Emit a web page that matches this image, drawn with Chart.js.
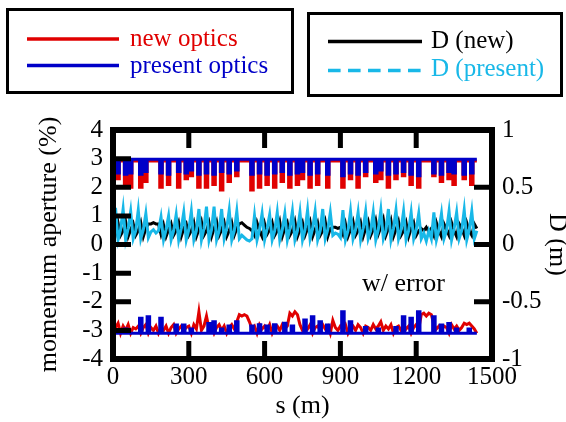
<!DOCTYPE html>
<html>
<head>
<meta charset="utf-8">
<script src="https://cdn.jsdelivr.net/npm/chart.js@4.4.1/dist/chart.umd.min.js"></script>
<style>
  body { margin: 0; background: #fff; }
  #wrap { position: relative; width: 566px; height: 422px; font-family: 'Liberation Serif', 'Times New Roman', serif; }
  #chart { position: absolute; left: 0; top: 0; }
  .box { position: absolute; border: 3px solid #000; box-sizing: border-box; }
  .txt { position: absolute; font-size: 25px; line-height: 25px; white-space: nowrap; }
  #keys { position: absolute; left: 0; top: 0; }
</style>
</head>
<body>
<div id="wrap">
  <canvas id="chart" width="566" height="422"></canvas>

  <div class="box" style="left:6px;top:8px;width:288px;height:86px;"></div>
  <div class="box" style="left:307px;top:12px;width:256px;height:85px;"></div>
  <svg id="keys" width="566" height="100">
    <line x1="27" y1="39" x2="119" y2="39" stroke="#e00000" stroke-width="3.5"/>
    <line x1="27" y1="65.5" x2="119" y2="65.5" stroke="#0000c8" stroke-width="3.5"/>
    <line x1="328" y1="41.5" x2="422" y2="41.5" stroke="#000" stroke-width="3.5"/>
    <line x1="328" y1="70.5" x2="422" y2="70.5" stroke="#18b8e8" stroke-width="3.5" stroke-dasharray="12.6 7.4"/>
  </svg>
  <div class="txt" style="left:130px;top:25px;color:#e00000;">new optics</div>
  <div class="txt" style="left:130px;top:52px;color:#0000c8;">present optics</div>
  <div class="txt" style="left:431px;top:27px;color:#000;">D (new)</div>
  <div class="txt" style="left:431px;top:55px;color:#18b8e8;">D (present)</div>
  <div class="txt" style="left:362px;top:270px;font-size:26px;line-height:26px;color:#000;">w/ error</div>
</div>

<script>
// position along the ring (m)
const s = [
  0, 10, 20, 30, 40, 50, 60, 70, 80, 90,
  100, 110, 120, 130, 140, 150, 160, 170, 180, 190,
  200, 210, 220, 230, 240, 250, 260, 270, 280, 290,
  300, 310, 320, 330, 340, 350, 360, 370, 380, 390,
  400, 410, 420, 430, 440, 450, 460, 470, 480, 490,
  500, 510, 520, 530, 540, 550, 560, 570, 580, 590,
  600, 610, 620, 630, 640, 650, 660, 670, 680, 690,
  700, 710, 720, 730, 740, 750, 760, 770, 780, 790,
  800, 810, 820, 830, 840, 850, 860, 870, 880, 890,
  900, 910, 920, 930, 940, 950, 960, 970, 980, 990,
  1000, 1010, 1020, 1030, 1040, 1050, 1060, 1070, 1080, 1090,
  1100, 1110, 1120, 1130, 1140, 1150, 1160, 1170, 1180, 1190,
  1200, 1210, 1220, 1230, 1240, 1250, 1260, 1270, 1280, 1290,
  1300, 1310, 1320, 1330, 1340, 1350, 1360, 1370, 1380, 1390,
  1400, 1410, 1420, 1430, 1440
];

// momentum aperture (%), new optics, positive side
const newTop = [
  2.92, 2.92, 2.3, 2.92, 2.92, 2.1, 2.92, 2.0, 2.92, 2.92,
  2.92, 2.0, 2.92, 2.2, 2.92, 2.92, 2.92, 2.92, 2.92, 2.0,
  2.92, 2.92, 2.1, 2.92, 2.92, 2.92, 2.0, 2.92, 2.92, 2.3,
  2.92, 2.4, 2.92, 2.92, 2.0, 2.92, 2.92, 2.0, 2.92, 2.92,
  2.1, 2.92, 2.92, 1.9, 2.92, 2.92, 2.2, 2.92, 2.92, 2.4,
  2.92, 2.92, 2.92, 2.92, 2.92, 1.9, 2.92, 2.92, 2.0, 2.92,
  2.92, 2.1, 2.92, 2.92, 2.0, 2.92, 2.92, 2.2, 2.92, 2.92,
  2.0, 2.92, 2.92, 2.1, 2.92, 2.3, 2.92, 2.92, 2.0, 2.92,
  2.92, 2.1, 2.92, 2.92, 2.92, 2.0, 2.92, 2.92, 2.92, 2.92,
  2.92, 2.0, 2.92, 2.92, 2.3, 2.92, 2.92, 2.0, 2.92, 2.92,
  2.4, 2.92, 2.92, 2.92, 2.2, 2.92, 2.3, 2.92, 2.92, 2.0,
  2.92, 2.92, 2.3, 2.92, 2.92, 2.4, 2.92, 2.92, 2.1, 2.92,
  2.92, 2.0, 2.92, 2.92, 2.92, 2.92, 2.92, 2.4, 2.92, 2.92,
  2.2, 2.92, 2.92, 2.3, 2.92, 2.1, 2.92, 2.92, 2.92, 2.3,
  2.92, 2.92, 2.1, 2.92, 2.92
];

// momentum aperture (%), present optics, positive side
const presentTop = [
  2.98, 2.98, 2.5, 2.98, 2.98, 2.45, 2.98, 2.5, 2.98, 2.98,
  2.98, 2.45, 2.98, 2.55, 2.98, 2.98, 2.98, 2.98, 2.98, 2.5,
  2.98, 2.98, 2.45, 2.98, 2.98, 2.98, 2.55, 2.98, 2.98, 2.5,
  2.98, 2.6, 2.98, 2.98, 2.45, 2.98, 2.98, 2.5, 2.98, 2.98,
  2.45, 2.98, 2.98, 2.55, 2.98, 2.98, 2.5, 2.98, 2.98, 2.6,
  2.98, 2.98, 2.98, 2.98, 2.98, 2.45, 2.98, 2.98, 2.5, 2.98,
  2.98, 2.45, 2.98, 2.98, 2.5, 2.98, 2.98, 2.55, 2.98, 2.98,
  2.45, 2.98, 2.98, 2.5, 2.98, 2.55, 2.98, 2.98, 2.45, 2.98,
  2.98, 2.5, 2.98, 2.98, 2.98, 2.45, 2.98, 2.98, 2.98, 2.98,
  2.98, 2.4, 2.98, 2.98, 2.5, 2.98, 2.98, 2.45, 2.98, 2.98,
  2.55, 2.98, 2.98, 2.98, 2.5, 2.98, 2.6, 2.98, 2.98, 2.45,
  2.98, 2.98, 2.5, 2.98, 2.98, 2.55, 2.98, 2.98, 2.45, 2.98,
  2.98, 2.4, 2.98, 2.98, 2.98, 2.98, 2.98, 2.5, 2.98, 2.98,
  2.45, 2.98, 2.98, 2.55, 2.98, 2.5, 2.98, 2.98, 2.98, 2.45,
  2.98, 2.98, 2.5, 2.98, 2.98
];

// momentum aperture (%), new optics, negative side
const newBot = [
  -3.18, -2.9, -2.75, -3.1, -2.85, -3.0, -2.8, -3.1, -2.9, -2.95,
  -2.85, -3.1, -2.9, -2.8, -3.1, -2.9, -3.0, -2.85, -3.1, -2.9,
  -3.0, -2.85, -3.1, -2.9, -2.8, -3.1, -2.95, -2.85, -3.0, -2.9,
  -2.85, -3.1, -2.8, -2.95, -2.35, -3.0, -2.85, -2.5, -2.95, -2.85,
  -3.1, -2.9, -2.8, -3.0, -2.85, -3.1, -2.9, -2.8, -2.95, -2.7,
  -2.45, -2.5, -2.45, -2.5, -2.7, -2.95, -2.85, -3.1, -2.8, -2.95,
  -2.85, -3.0, -2.8, -3.1, -2.9, -2.85, -3.0, -2.8, -2.95, -2.85,
  -2.4, -2.5, -2.35, -2.45, -2.8, -3.0, -2.85, -2.95, -2.8, -3.1,
  -2.9, -2.85, -3.0, -2.8, -2.95, -2.85, -3.1, -2.65, -2.9, -3.0,
  -2.85, -2.95, -2.8, -3.1, -2.9, -2.85, -3.0, -2.8, -2.9, -3.1,
  -2.85, -2.9, -3.0, -2.8, -2.95, -2.85, -2.7, -3.0, -2.85, -2.95,
  -2.8, -3.1, -2.9, -2.85, -3.0, -2.8, -2.95, -2.85, -3.1, -2.9,
  -2.8, -2.95, -2.45, -2.4, -2.5, -2.4, -2.45, -2.8, -2.95, -2.85,
  -3.0, -2.85, -2.9, -3.1, -2.8, -2.95, -2.85, -3.0, -2.9, -2.75,
  -2.8, -2.75, -2.85, -2.95, -3.1
];

// momentum aperture (%), present optics, negative side
const presentBot = [
  -3.1, -3.1, -3.1, -3.1, -3.1, -2.95, -3.1, -3.1, -3.1, -3.1,
  -3.1, -2.58, -3.1, -3.1, -2.52, -3.1, -3.1, -3.1, -3.1, -2.58,
  -3.1, -3.1, -3.1, -3.1, -3.1, -2.81, -3.1, -3.1, -2.81, -3.1,
  -3.1, -2.95, -3.1, -3.1, -3.1, -3.1, -3.1, -3.1, -2.76, -3.1,
  -2.7, -3.1, -3.1, -2.95, -3.1, -3.1, -2.85, -3.1, -3.1, -2.7,
  -3.1, -3.1, -3.1, -3.1, -3.1, -2.85, -3.1, -3.1, -2.8, -3.1,
  -3.1, -2.85, -3.1, -3.1, -2.8, -3.1, -3.1, -3.1, -2.75, -3.1,
  -3.1, -2.85, -3.1, -3.1, -3.1, -3.1, -2.64, -3.1, -3.1, -2.52,
  -3.1, -3.1, -2.7, -3.1, -3.1, -2.81, -3.1, -3.1, -3.1, -3.1,
  -3.1, -2.35, -3.1, -3.1, -2.7, -3.1, -3.1, -3.1, -3.1, -3.1,
  -2.9, -3.1, -3.1, -3.1, -3.1, -2.95, -3.1, -3.1, -3.1, -3.1,
  -3.1, -3.1, -2.9, -3.1, -3.1, -2.52, -3.1, -3.1, -2.58, -3.1,
  -3.1, -2.35, -3.1, -3.1, -3.1, -3.1, -3.1, -2.52, -3.1, -3.1,
  -2.81, -3.1, -3.1, -2.76, -3.1, -3.1, -2.95, -3.1, -3.1, -3.1,
  -3.1, -2.95, -3.1, -3.1, -3.1
];

// dispersion D (m), new optics
const dNew = [
  0.14, 0.09, 0.19, 0.08, 0.12, 0.2, 0.07, 0.13, 0.18, 0.08,
  0.12, 0.19, 0.07, 0.14, 0.18, 0.18, 0.19, 0.18, 0.18, 0.09,
  0.17, 0.07, 0.13, 0.18, 0.08, 0.12, 0.19, 0.07, 0.14, 0.18,
  0.08, 0.12, 0.19, 0.07, 0.13, 0.2, 0.08, 0.12, 0.19, 0.07,
  0.14, 0.2, 0.08, 0.13, 0.19, 0.07, 0.12, 0.19, 0.08, 0.14,
  0.18, 0.19, 0.17, 0.15, 0.14, 0.12, 0.08, 0.19, 0.12, 0.07,
  0.18, 0.09, 0.13, 0.19, 0.08, 0.12, 0.2, 0.07, 0.14, 0.19,
  0.08, 0.12, 0.2, 0.07, 0.13, 0.19, 0.08, 0.14, 0.2, 0.07,
  0.13, 0.19, 0.08, 0.12, 0.2, 0.07, 0.14, 0.15, 0.15, 0.14,
  0.15, 0.09, 0.18, 0.07, 0.13, 0.2, 0.08, 0.12, 0.19, 0.07,
  0.14, 0.2, 0.08, 0.13, 0.21, 0.09, 0.15, 0.22, 0.08, 0.14,
  0.21, 0.07, 0.13, 0.2, 0.08, 0.12, 0.19, 0.07, 0.14, 0.19,
  0.08, 0.12, 0.14, 0.12, 0.15, 0.11, 0.14, 0.08, 0.19, 0.12,
  0.07, 0.18, 0.13, 0.08, 0.19, 0.12, 0.07, 0.18, 0.14, 0.08,
  0.19, 0.12, 0.08, 0.18, 0.14
];

// dispersion D (m), present optics
const dPresent = [
  0.05, 0.32, 0.04, 0.13, 0.31, 0.04, 0.14, 0.29, 0.05, 0.12,
  0.3, 0.05, 0.13, 0.27, 0.06, 0.11, 0.13, 0.1, 0.12, 0.24,
  0.04, 0.13, 0.25, 0.04, 0.12, 0.26, 0.04, 0.14, 0.28, 0.04,
  0.13, 0.29, 0.04, 0.12, 0.31, 0.04, 0.14, 0.33, 0.04, 0.13,
  0.33, 0.04, 0.12, 0.31, 0.05, 0.14, 0.3, 0.04, 0.12, 0.29,
  0.05, 0.08, 0.06, 0.04, 0.03, 0.05, 0.25, 0.04, 0.13, 0.27,
  0.04, 0.14, 0.26, 0.04, 0.12, 0.28, 0.04, 0.13, 0.27, 0.04,
  0.14, 0.29, 0.04, 0.12, 0.28, 0.04, 0.13, 0.3, 0.05, 0.14,
  0.29, 0.04, 0.12, 0.31, 0.05, 0.13, 0.28, 0.08, 0.1, 0.09,
  0.06, 0.3, 0.04, 0.12, 0.29, 0.05, 0.13, 0.28, 0.04, 0.14,
  0.29, 0.05, 0.12, 0.28, 0.04, 0.13, 0.3, 0.05, 0.12, 0.31,
  0.04, 0.14, 0.3, 0.05, 0.13, 0.29, 0.04, 0.12, 0.28, 0.05,
  0.13, 0.27, 0.05, 0.1, 0.03, 0.12, 0.05, 0.28, 0.04, 0.13,
  0.27, 0.05, 0.12, 0.29, 0.04, 0.14, 0.28, 0.05, 0.12, 0.3,
  0.04, 0.13, 0.29, 0.05, 0.12
];

// inward tick marks on the frame
const sTicks = [300, 600, 900, 1200];
const apTicks = [-3, -2, -1, 0, 1, 2, 3];
const dTicks = [-0.5, 0, 0.5];

const red = '#e00000';
const blue = '#0000c8';
const cyan = '#18b8e8';

Chart.defaults.font.family = "'Liberation Serif', 'Times New Roman', serif";
Chart.defaults.font.size = 25;
Chart.defaults.color = '#000';

const pts = ys => s.map((x, i) => ({ x: x, y: ys[i] }));

const framePlugin = {
  id: 'frame',
  afterDatasetsDraw(chart) {
    const { ctx, chartArea: a, scales } = chart;
    ctx.save();
    ctx.strokeStyle = '#000';
    ctx.lineWidth = 6;
    ctx.strokeRect(a.left, a.top, a.right - a.left, a.bottom - a.top);
    ctx.lineWidth = 5;
    ctx.beginPath();
    sTicks.forEach(v => {
      const px = scales.x.getPixelForValue(v);
      ctx.moveTo(px, a.top); ctx.lineTo(px, a.top + 18);
      ctx.moveTo(px, a.bottom); ctx.lineTo(px, a.bottom - 18);
    });
    apTicks.forEach(v => {
      const py = scales.y.getPixelForValue(v);
      ctx.moveTo(a.left, py); ctx.lineTo(a.left + 18, py);
    });
    dTicks.forEach(v => {
      const py = scales.y2.getPixelForValue(v);
      ctx.moveTo(a.right, py); ctx.lineTo(a.right - 18, py);
    });
    ctx.stroke();
    ctx.restore();
  }
};

new Chart(document.getElementById('chart'), {
  type: 'line',
  data: {
    datasets: [
      { label: 'D (present)', data: pts(dPresent), yAxisID: 'y2', borderColor: cyan, order: 1 },
      { label: 'D (new)', data: pts(dNew), yAxisID: 'y2', borderColor: '#000', order: 2 },
      { label: 'present optics', data: pts(presentTop), yAxisID: 'y', borderColor: blue, stepped: 'middle', order: 3 },
      { label: 'present optics', data: pts(presentBot), yAxisID: 'y', borderColor: blue, stepped: 'middle', order: 3 },
      { label: 'new optics', data: pts(newTop), yAxisID: 'y', borderColor: red, stepped: 'middle', order: 4 },
      { label: 'new optics', data: pts(newBot), yAxisID: 'y', borderColor: red, order: 4 }
    ]
  },
  options: {
    responsive: false,
    animation: false,
    devicePixelRatio: 1,
    layout: { padding: { top: 130, left: 0, right: 0, bottom: 0 } },
    elements: {
      point: { radius: 0 },
      line: { borderWidth: 3, tension: 0 }
    },
    plugins: { legend: { display: false }, tooltip: { enabled: false } },
    scales: {
      x: {
        type: 'linear', min: 0, max: 1500,
        grid: { display: false, drawTicks: false },
        border: { display: false },
        ticks: { stepSize: 300, autoSkip: false, maxRotation: 0, padding: 3, font: { size: 25 }, callback: v => String(v) },
        title: { display: true, text: 's (m)', font: { size: 26 }, padding: { top: 0, bottom: 0 } },
        afterFit: sc => { sc.height = 63; }
      },
      y: {
        position: 'left', min: -4, max: 4,
        grid: { display: false, drawTicks: false },
        border: { display: false },
        ticks: { stepSize: 1, autoSkip: false, padding: 10, font: { size: 25 }, callback: v => String(v) },
        title: { display: true, text: 'momentum aperture (%)', font: { size: 26 }, padding: { top: 34, bottom: 0 } },
        afterFit: sc => { sc.width = 113; }
      },
      y2: {
        position: 'right', min: -1, max: 1,
        grid: { display: false, drawTicks: false },
        border: { display: false },
        ticks: { stepSize: 0.5, autoSkip: false, padding: 10, font: { size: 25 }, callback: v => String(v) },
        title: { display: true, text: 'D (m)', font: { size: 26 }, padding: { top: -6, bottom: 0 } },
        afterFit: sc => { sc.width = 74; }
      }
    }
  },
  plugins: [framePlugin]
});
</script>
</body>
</html>
